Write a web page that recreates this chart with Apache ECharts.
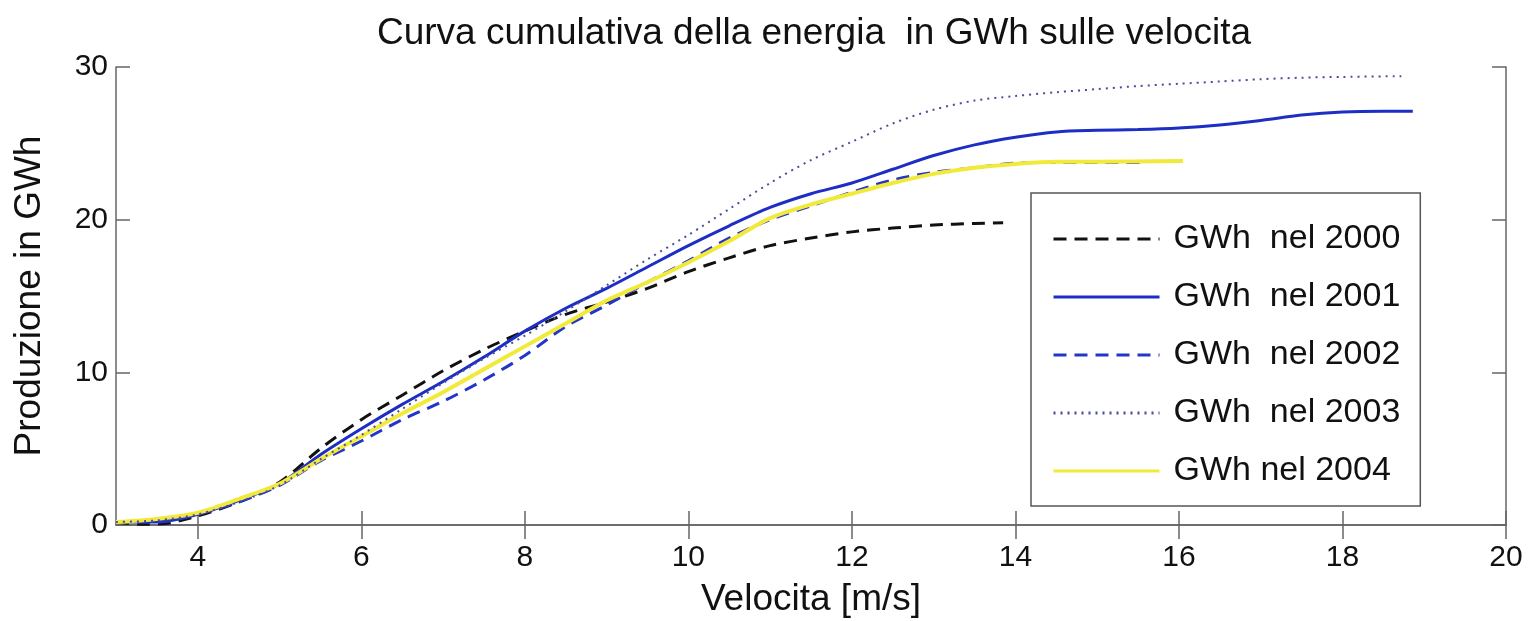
<!DOCTYPE html>
<html>
<head>
<meta charset="utf-8">
<title>Curva cumulativa</title>
<script src="https://cdn.jsdelivr.net/npm/echarts@6/dist/echarts.min.js"></script>
<style>
  html, body { margin: 0; background: #fff; }
  #chart { width: 1534px; height: 621px; }
</style>
</head>
<body>
<div id="chart"></div>
<script>
// velocita [m/s] e produzione cumulativa [GWh]
const vel2000 = [3, 3.3, 3.6, 4, 4.5, 5, 5.5, 6, 6.5, 7, 7.5, 8, 8.5, 9, 9.5, 10, 10.5, 11, 11.5, 12, 12.5, 13, 13.5, 13.85]
const gwh2000 = [0.2, 0.05, 0.1, 0.6, 1.5, 2.8, 5.0, 6.9, 8.5, 10.1, 11.5, 12.7, 13.8, 14.6, 15.5, 16.6, 17.5, 18.3, 18.8, 19.2, 19.45, 19.65, 19.75, 19.8]

const vel2001 = [3, 3.5, 4, 4.5, 5, 5.5, 6, 6.5, 7, 7.5, 8, 8.5, 9, 9.5, 10, 10.5, 11, 11.5, 12, 12.5, 13, 13.5, 14, 14.5, 15, 15.5, 16, 16.5, 17, 17.5, 18, 18.5, 18.86]
const gwh2001 = [0.2, 0.2, 0.7, 1.6, 2.7, 4.6, 6.3, 7.9, 9.4, 11.0, 12.7, 14.2, 15.5, 16.9, 18.3, 19.6, 20.8, 21.7, 22.4, 23.3, 24.2, 24.9, 25.4, 25.75, 25.85, 25.9, 26.0, 26.2, 26.5, 26.85, 27.05, 27.1, 27.1]

const vel2002 = [3, 3.5, 4, 4.5, 5, 5.5, 6, 6.5, 7, 7.5, 8, 8.5, 9, 9.5, 10, 10.5, 11, 11.5, 12, 12.5, 13, 13.5, 14, 14.5, 15, 15.6]
const gwh2002 = [0.2, 0.2, 0.7, 1.5, 2.6, 4.2, 5.5, 6.9, 8.1, 9.5, 11.1, 13.0, 14.4, 15.9, 17.3, 18.8, 20.0, 20.9, 21.8, 22.6, 23.1, 23.4, 23.7, 23.75, 23.75, 23.75]

const vel2003 = [3, 3.5, 4, 4.5, 5, 5.5, 6, 6.5, 7, 7.5, 8, 8.5, 9, 9.5, 10, 10.5, 11, 11.5, 12, 12.5, 13, 13.5, 14, 14.5, 15, 15.5, 16, 16.5, 17, 17.5, 18, 18.72]
const gwh2003 = [0.2, 0.3, 0.7, 1.5, 2.6, 4.3, 5.9, 7.6, 9.3, 10.9, 12.4, 14.0, 15.7, 17.4, 19.0, 20.7, 22.4, 23.9, 25.1, 26.3, 27.2, 27.8, 28.1, 28.35, 28.55, 28.75, 28.9, 29.05, 29.2, 29.3, 29.35, 29.4]

const vel2004 = [3, 3.5, 4, 4.5, 5, 5.5, 6, 6.5, 7, 7.5, 8, 8.5, 9, 9.5, 10, 10.5, 11, 11.5, 12, 12.5, 13, 13.5, 14, 14.5, 15, 16.05]
const gwh2004 = [0.2, 0.4, 0.8, 1.7, 2.7, 4.3, 5.8, 7.3, 8.7, 10.2, 11.7, 13.2, 14.7, 15.9, 17.2, 18.6, 20.1, 21.0, 21.7, 22.4, 23.0, 23.4, 23.65, 23.8, 23.8, 23.85]

const xTicks = [4, 6, 8, 10, 12, 14, 16, 18, 20]
const seriesNames = ['GWh  nel 2000', 'GWh  nel 2001', 'GWh  nel 2002', 'GWh  nel 2003', 'GWh nel 2004']

const font = "'Liberation Sans', Arial, Helvetica, sans-serif"
const pairs = (xs, ys) => xs.map((x, i) => [x, ys[i]])

const axisLine = { show: true, lineStyle: { color: '#666', width: 1.5 } }
const axisTick = { show: true, inside: true, length: 14, lineStyle: { color: '#666', width: 1.5 } }

const myChart = echarts.init(document.getElementById('chart'))

const line = (name, xs, ys, color, width, type, z) => ({
  name: name,
  type: 'line',
  data: pairs(xs, ys),
  smooth: 0.3,
  symbol: 'none',
  z: z,
  lineStyle: { color: color, width: width, type: type },
  itemStyle: { color: color }
})

myChart.setOption({
  animation: false,
  backgroundColor: '#fff',
  title: {
    text: 'Curva cumulativa della energia  in GWh sulle velocita',
    left: 372,
    top: 10,
    textStyle: { fontFamily: font, fontSize: 37, fontWeight: 'normal', color: '#111' }
  },
  grid: { left: 116, right: 28, top: 67, bottom: 96, outerBoundsMode: 'none' },
  legend: {
    orient: 'vertical',
    left: 1031,
    top: 193,
    padding: [29, 20, 18, 21],
    itemWidth: 106,
    itemHeight: 14,
    itemGap: 24,
    backgroundColor: '#fff',
    borderColor: '#555',
    borderWidth: 1.5,
    itemStyle: { opacity: 0 },
    lineStyle: { width: 3 },
    textStyle: { fontFamily: font, fontSize: 34, color: '#111', lineHeight: 34, padding: [0, 0, 0, 9] },
    data: seriesNames
  },
  xAxis: [
    {
      type: 'value',
      min: 3,
      max: 20,
      name: 'Velocita [m/s]',
      nameLocation: 'middle',
      nameGap: 56,
      nameTextStyle: { fontFamily: font, fontSize: 37, color: '#111' },
      axisLine: axisLine,
      axisTick: Object.assign({ customValues: xTicks }, axisTick),
      axisLabel: { customValues: xTicks, fontFamily: font, fontSize: 30, color: '#111', margin: 18 },
      splitLine: { show: false }
    },
    {
      type: 'value',
      min: 3,
      max: 20,
      position: 'top',
      axisLine: axisLine,
      axisTick: Object.assign({ customValues: xTicks }, axisTick),
      axisLabel: { show: false },
      splitLine: { show: false }
    }
  ],
  yAxis: [
    {
      type: 'value',
      min: 0,
      max: 30,
      interval: 10,
      name: 'Produzione in GWh',
      nameLocation: 'middle',
      nameGap: 68,
      nameTextStyle: { fontFamily: font, fontSize: 37, color: '#111' },
      axisLine: axisLine,
      axisTick: axisTick,
      axisLabel: { fontFamily: font, fontSize: 30, color: '#111', margin: 8 },
      splitLine: { show: false }
    },
    {
      type: 'value',
      min: 0,
      max: 30,
      interval: 10,
      position: 'right',
      axisLine: axisLine,
      axisTick: axisTick,
      axisLabel: { show: false },
      splitLine: { show: false }
    }
  ],
  series: [
    line(seriesNames[0], vel2000, gwh2000, '#111111', 3, [13, 8], 2),
    line(seriesNames[1], vel2001, gwh2001, '#1c2ec4', 3, 'solid', 3),
    line(seriesNames[2], vel2002, gwh2002, '#2436c8', 3, [13, 8], 4),
    line(seriesNames[3], vel2003, gwh2003, '#4a4d9a', 2, [2, 5], 6),
    line(seriesNames[4], vel2004, gwh2004, '#f2ea3a', 4, 'solid', 5)
  ]
})
</script>
</body>
</html>
